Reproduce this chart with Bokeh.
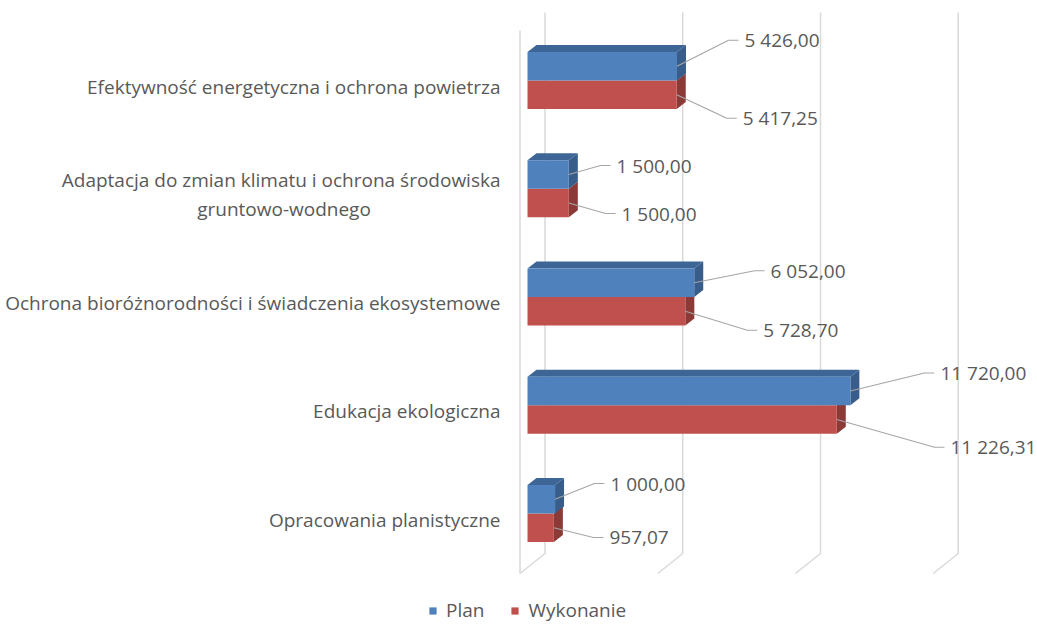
from bokeh.plotting import figure
from bokeh.models import Range1d, Legend, LegendItem, ColumnDataSource
from bokeh.core.properties import value
from bokeh.embed import file_html
from bokeh.resources import INLINE

# ---------------- data ----------------
categories = [
    "Efektywność energetyczna i ochrona powietrza",
    "Adaptacja do zmian klimatu i ochrona środowiska\ngruntowo-wodnego",
    "Ochrona bioróżnorodności i świadczenia ekosystemowe",
    "Edukacja ekologiczna",
    "Opracowania planistyczne",
]
plan = [5426.00, 1500.00, 6052.00, 11720.00, 1000.00]
wykonanie = [5417.25, 1500.00, 5728.70, 11226.31, 957.07]
series_names = ["Plan", "Wykonanie"]
x_ticks = [0, 5000, 10000, 15000]

# ---------------- layout / style (pixels) ----------------
W, H = 1037, 626
ZERO_PX = 527          # frame px of value 0 (bar front face)
PX_PER_UNIT = 0.02755  # px per value unit
CAT_TOP_PX = 80        # frame px of first category centre
CAT_STEP_PX = 108.25   # px between categories
BAR_PX = 28.5          # thickness of one series bar
DEPTH_DX, DEPTH_DY = 9, 7      # bar 3D depth
BACK_DX = 17.5                 # back wall offset from bar zero
WALL_DX, WALL_DY = 25, 20      # floor depth
GRID_TOP, GRID_BOT = 12, 553   # frame px
EDGE_TOP = 30
LABEL_X_PX = -27
LINE_SPACING = 29
LINE0_HALF_W = 216.5

# label offsets (px) relative to bar end / bar centre
plan_lab_dx = [67.5, 47.7, 76.3, 90.0, 55.4]
plan_lab_dy = [-26.0, -9.0, -12.0, -18.0, -15.75]
wyk_lab_dx = [66.0, 52.7, 78.0, 113.7, 55.6]
wyk_lab_dy = [23.5, 10.5, 19.0, 27.75, 9.75]

BLUE, BLUE_TOP, BLUE_SIDE = "#4F81BD", "#3D6696", "#385D8A"
RED, RED_SIDE = "#C0504D", "#8C3A37"
GRID = "#D9D9D9"
TXT = "#595959"
LEADER = "#A6A6A6"
FONT = "Open Sans"
FS = "19px"


def xpx(px):
    return px / PX_PER_UNIT


def ypx(px):
    return px / CAT_STEP_PX


def y_at(py):
    return (py - CAT_TOP_PX) / CAT_STEP_PX


def fmt(v):
    return f"{v:,.2f}".replace(",", " ").replace(".", ",")


p = figure(
    width=W, height=H,
    x_range=Range1d(-ZERO_PX / PX_PER_UNIT, (W - ZERO_PX) / PX_PER_UNIT),
    y_range=Range1d((H - CAT_TOP_PX) / CAT_STEP_PX, -CAT_TOP_PX / CAT_STEP_PX),
    output_backend="svg", toolbar_location=None, min_border=0,
    x_axis_location=None, y_axis_location=None, outline_line_color=None,
    background_fill_color="white", border_fill_color="white",
)
p.grid.visible = False

# ---------- walls / gridlines ----------
gxs, gys = [], []
for t in x_ticks:
    xb = t + xpx(BACK_DX)
    gxs.append([xb, xb, xb - xpx(WALL_DX)])
    gys.append([y_at(GRID_TOP), y_at(GRID_BOT), y_at(GRID_BOT + WALL_DY)])
edge_x = xpx(BACK_DX - WALL_DX)
gxs.append([edge_x, edge_x])
gys.append([y_at(EDGE_TOP), y_at(GRID_BOT + WALL_DY)])
p.multi_line(gxs, gys, line_color=GRID, line_width=1.5)

idx = list(range(len(categories)))
bh = ypx(BAR_PX)
ddx, ddy = xpx(DEPTH_DX), ypx(DEPTH_DY)

# ---------- red (Wykonanie) ----------
red_side_xs, red_side_ys = [], []
for i, r in zip(idx, wykonanie):
    top, bot = i, i + bh
    red_side_xs.append([r, r + ddx, r + ddx, r])
    red_side_ys.append([top, top - ddy, bot - ddy, bot])
p.patches(red_side_xs, red_side_ys, fill_color=RED_SIDE, line_color=None)
r_red = p.hbar(y=[i + bh / 2 for i in idx], right=wykonanie, left=0, height=bh,
               fill_color=RED, line_color=None)

# ---------- blue (Plan) ----------
top_xs, top_ys, side_xs, side_ys = [], [], [], []
for i, v in zip(idx, plan):
    top, bot = i - bh, i
    top_xs.append([0, v, v + ddx, ddx])
    top_ys.append([top, top, top - ddy, top - ddy])
    side_xs.append([v, v + ddx, v + ddx, v])
    side_ys.append([top, top - ddy, bot - ddy, bot])
p.patches(side_xs, side_ys, fill_color=BLUE_SIDE, line_color=None)
p.patches(top_xs, top_ys, fill_color=BLUE_TOP, line_color=None)
r_blue = p.hbar(y=[i - bh / 2 for i in idx], right=plan, left=0, height=bh,
                fill_color=BLUE, line_color=None)

# ---------- data labels with leaders ----------
lx, ly, lt, ldx, ldy = [], [], [], [], []
for vals, dxs, dys, sign in ((plan, plan_lab_dx, plan_lab_dy, -1),
                             (wykonanie, wyk_lab_dx, wyk_lab_dy, 1)):
    for i, v, dx, dy in zip(idx, vals, dxs, dys):
        yc = i + sign * bh / 2
        ty = yc + ypx(dy)
        lx.append(v + xpx(dx))
        ly.append(ty)
        lt.append(fmt(v))
        ldx.append([v, v + xpx(dx - 16), v + xpx(dx - 6)])
        ldy.append([yc, ty, ty])
p.multi_line(ldx, ldy, line_color=LEADER, line_width=1.2)
p.text(x=lx, y=ly, text=lt, text_align="left", text_baseline="middle",
       text_font=value(FONT), text_font_size=FS, text_color=TXT)

# ---------- category labels ----------
cx, cy, ct, ca = [], [], [], []
for i, c in zip(idx, categories):
    lines = c.split("\n")
    n = len(lines)
    for k, line in enumerate(lines):
        off = 6 + (k - (n - 1) / 2) * LINE_SPACING
        cy.append(i + ypx(off))
        ct.append(line)
        if k == 0:
            cx.append(xpx(LABEL_X_PX))
            ca.append("right")
        else:
            cx.append(xpx(LABEL_X_PX - LINE0_HALF_W))
            ca.append("center")
src = ColumnDataSource(dict(x=cx, y=cy, text=ct, align=ca))
p.text(x="x", y="y", text="text", text_align="align", source=src,
       text_baseline="middle", text_font=value(FONT), text_font_size=FS,
       text_color=TXT)

# ---------- legend ----------
legend = Legend(
    items=[LegendItem(label=series_names[0], renderers=[r_blue]),
           LegendItem(label=series_names[1], renderers=[r_red])],
    orientation="horizontal", location=(428, 3),
    glyph_width=9, glyph_height=9, label_standoff=9, spacing=26,
    padding=0, margin=0, border_line_alpha=0, background_fill_alpha=0,
    label_text_font=FONT, label_text_font_size=FS, label_text_color=TXT,
)
p.add_layout(legend)

open("out.html", "w").write(file_html(p, INLINE))
